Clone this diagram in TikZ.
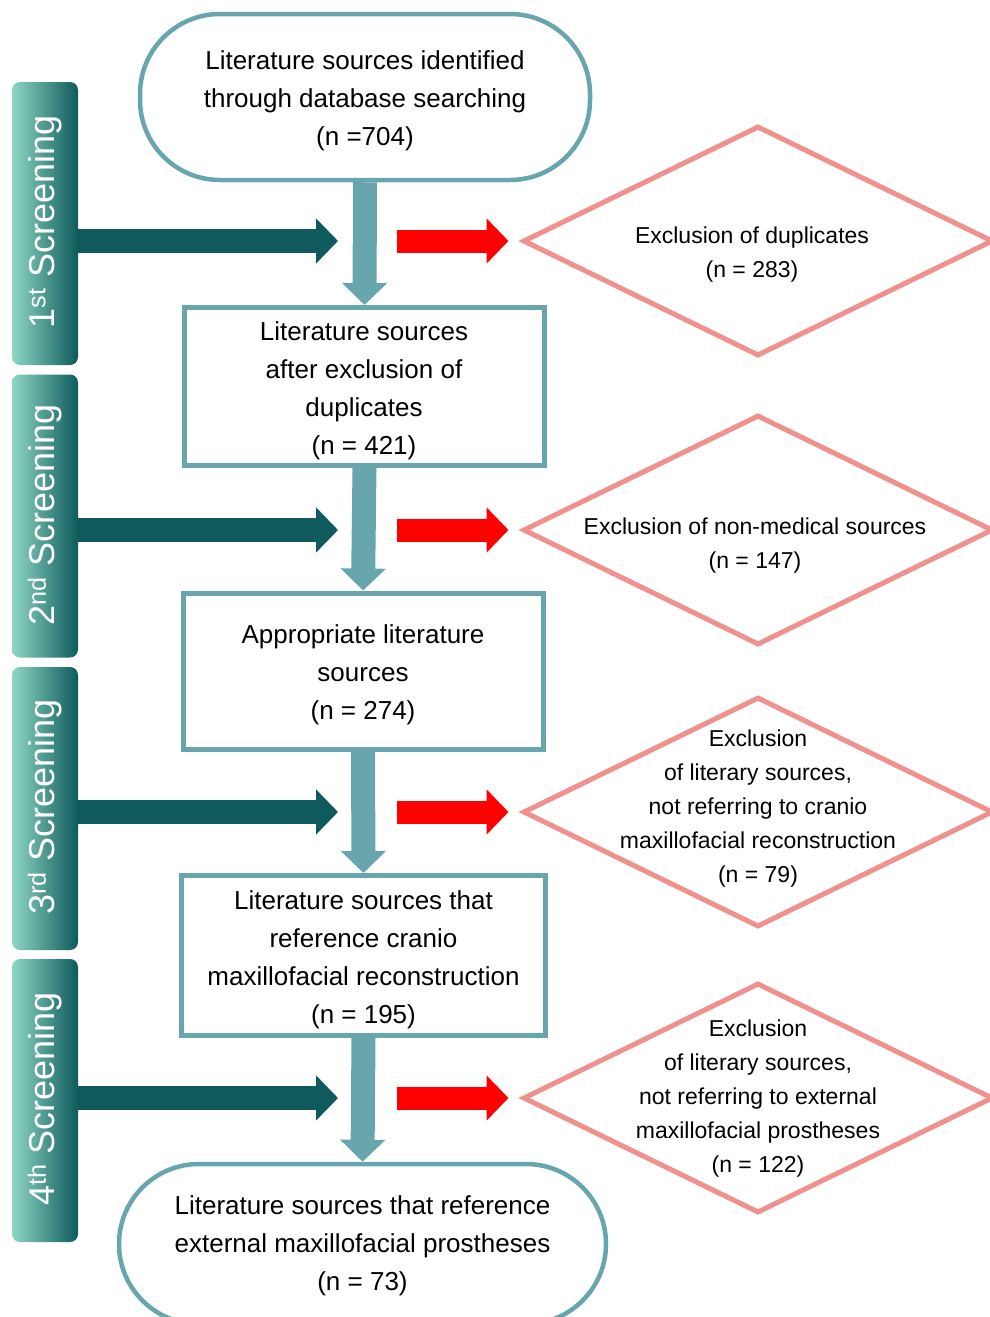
\documentclass[tikz,border=0pt]{standalone}
\usepackage{fontspec}
\setmainfont{Liberation Sans}
\usetikzlibrary{arrows.meta,shapes.geometric,calc}
\definecolor{frameteal}{HTML}{68A6AD}
\definecolor{darkteal}{HTML}{0E5A5C}
\definecolor{mint}{HTML}{8ED6C4}
\definecolor{exclpink}{HTML}{EE918F}
\definecolor{brightred}{HTML}{FF0000}

\begin{document}
\begin{tikzpicture}[x=1pt,y=-1pt,
  boxtext/.style={font=\fontsize{26}{38}\selectfont, align=center, text=black, inner sep=0pt},
  exctext/.style={font=\fontsize{23}{34}\selectfont, align=center, text=black, inner sep=0pt},
  terminal/.style={draw=frameteal, line width=4.5pt, fill=white, rounded corners=80pt, inner sep=0pt},
  process/.style={draw=frameteal, line width=5pt, fill=white, inner sep=0pt},
  exclusion/.style={diamond, draw=exclpink, line width=5pt, fill=white, inner sep=0pt,
                    minimum width=470pt, minimum height=230pt},
  stagebar/.style={rounded corners=8pt, left color=mint, right color=darkteal,
                   minimum width=66pt, minimum height=283pt, inner sep=0pt},
  stagetext/.style={font=\fontsize{36}{36}\selectfont, text=white, rotate=90, inner sep=0pt},
  flow/.style={draw=frameteal, line width=24pt, -{Triangle[length=22pt,width=44pt]}},
  stagearrow/.style={draw=darkteal, line width=24pt, -{Triangle[length=22pt,width=44pt]}},
  excarrow/.style={draw=brightred, line width=23pt, -{Triangle[length=22pt,width=44pt]}},
]
\useasboundingbox (0,0) rectangle (990,1317);
\clip (0,0) rectangle (990,1317);

% main flow
\node[terminal, minimum width=450pt, minimum height=166pt] (start) at (365,97) {};
\node[boxtext] (starttext) at (365,101) {Literature sources identified\\through database searching\\(n =704)};

\node[process, minimum width=360pt, minimum height=158pt] (b1) at (364.5,386.5) {};
\node[boxtext] (b1text) at (364,391) {Literature sources\\after exclusion of\\duplicates\\(n = 421)};

\node[process, minimum width=360pt, minimum height=156pt] (b2) at (363,671) {};
\node[boxtext] (b2text) at (363,675) {Appropriate literature\\sources\\(n = 274)};

\node[process, minimum width=364pt, minimum height=160pt] (b3) at (363.5,955.5) {};
\node[boxtext] (b3text) at (363.5,960) {Literature sources that\\reference cranio\\maxillofacial reconstruction\\(n = 195)};

\node[terminal, minimum width=487pt, minimum height=160pt] (final) at (362.5,1244) {};
\node[boxtext] (finaltext) at (362.5,1246) {Literature sources that reference\\external maxillofacial prostheses\\(n = 73)};

\draw[flow] (start.south) -- (b1.north);
\draw[flow] (b1.south) -- (b2.north);
\draw[flow] (b2.south) -- (b3.north);
\draw[flow] (b3.south) -- (final.north);

% exclusions
\node[exclusion] (d1) at (758,241) {};
\node[exctext] (d1text) at (752,254.5) {Exclusion of duplicates\\(n = 283)};
\node[exclusion] (d2) at (758,530) {};
\node[exctext] (d2text) at (755,546) {Exclusion of non-medical sources\\(n = 147)};
\node[exclusion] (d3) at (758,812) {};
\node[exctext] (d3text) at (758,809) {Exclusion\\of literary sources,\\not referring to cranio\\maxillofacial reconstruction\\(n = 79)};
\node[exclusion] (d4) at (758,1098) {};
\node[exctext] (d4text) at (758,1099) {Exclusion\\of literary sources,\\not referring to external\\maxillofacial prostheses\\(n = 122)};

% screening stages
\node[stagebar] (s1) at (45,223.5) {};
\node[stagetext] (s1text) at (45,222) {1\textsuperscript{st} Screening};
\node[stagebar] (s2) at (45,516) {};
\node[stagetext] (s2text) at (45,515) {2\textsuperscript{nd} Screening};
\node[stagebar] (s3) at (45,808.5) {};
\node[stagetext] (s3text) at (45,807) {3\textsuperscript{rd} Screening};
\node[stagebar] (s4) at (45,1100.5) {};
\node[stagetext] (s4text) at (45,1099) {4\textsuperscript{th} Screening};

% arrow ends
\coordinate (k1) at (338,241);
\coordinate (k2) at (338,530);
\coordinate (k3) at (338,812);
\coordinate (k4) at (338,1098);
\coordinate (r1) at (397,241);
\coordinate (r2) at (397,530);
\coordinate (r3) at (397,812);
\coordinate (r4) at (397,1098);

\draw[stagearrow] (s1.east |- k1) -- (k1);
\draw[stagearrow] (s2.east |- k2) -- (k2);
\draw[stagearrow] (s3.east |- k3) -- (k3);
\draw[stagearrow] (s4.east |- k4) -- (k4);

\draw[excarrow, shorten >=12pt] (r1) -- (d1.west);
\draw[excarrow, shorten >=12pt] (r2) -- (d2.west);
\draw[excarrow, shorten >=12pt] (r3) -- (d3.west);
\draw[excarrow, shorten >=12pt] (r4) -- (d4.west);
\end{tikzpicture}
\end{document}
